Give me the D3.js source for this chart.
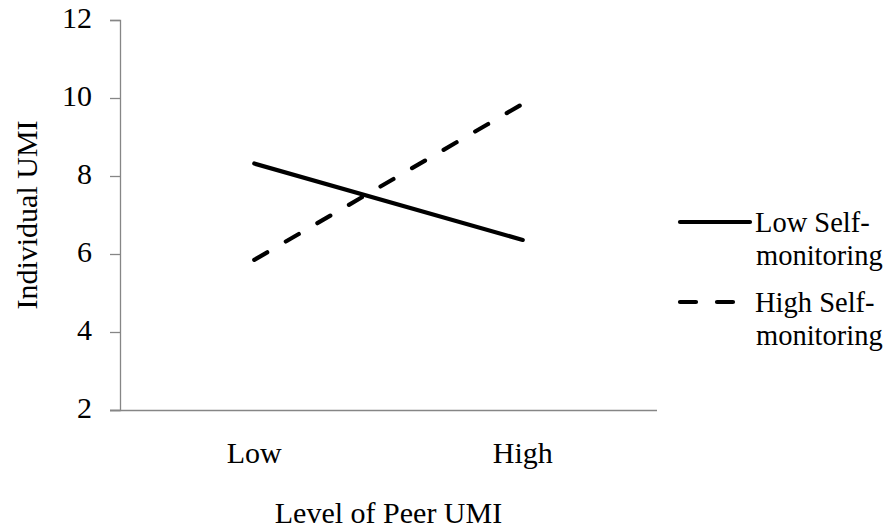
<!DOCTYPE html>
<html>
<head>
<meta charset="utf-8">
<script src="https://cdn.jsdelivr.net/npm/d3@7"></script>
<style>
  body { margin: 0; background: #fff; }
  svg { display: block; }
</style>
</head>
<body>
<svg id="chart" width="893" height="529"></svg>
<script>
const categories = ["Low", "High"];
const seriesNames = ["Low Self-monitoring", "High Self-monitoring"];
const lowSelfMonitoring = [8.32, 6.36];
const highSelfMonitoring = [5.85, 9.85];
const yTicks = [2, 4, 6, 8, 10, 12];
const xTitle = "Level of Peer UMI";
const yTitle = "Individual UMI";

(function () {
const FONT = "Liberation Serif";
const svg = d3.select("#chart");
const mLeft = 120, mRight = 657, mTop = 20, mBottom = 410;
const axisColor = "#868686";

const x = d3.scaleBand().domain(categories).range([mLeft, mRight]);
const y = d3.scaleLinear().domain([2, 12]).range([mBottom, mTop]);

// y axis
const yAxis = svg.append("g").attr("transform", `translate(${mLeft},0)`)
  .call(d3.axisLeft(y).tickValues(yTicks).tickSize(10).tickPadding(18).tickFormat(d3.format("d")));
yAxis.attr("font-family", FONT).attr("font-size", 30);
yAxis.select(".domain").attr("stroke", axisColor).attr("stroke-width", 1.3);
yAxis.selectAll(".tick line").attr("stroke", axisColor).attr("stroke-width", 1.3);
yAxis.selectAll(".tick text").attr("fill", "#000").attr("dy", "0.25em");

// x axis
const xAxis = svg.append("g").attr("transform", `translate(0,${mBottom})`)
  .call(d3.axisBottom(x).tickSize(0).tickPadding(32).tickSizeOuter(0));
xAxis.attr("font-family", FONT).attr("font-size", 30);
xAxis.select(".domain").attr("stroke", axisColor).attr("stroke-width", 1.3)
  .attr("d", `M${mLeft - 10},0.5H${mRight}`);
xAxis.selectAll(".tick text").attr("fill", "#000");

// axis titles
svg.append("text").attr("x", (mLeft + mRight) / 2).attr("y", 523)
  .attr("text-anchor", "middle").attr("font-size", 30).text(xTitle);
svg.append("text").attr("transform", `translate(37,${(mTop + mBottom) / 2}) rotate(-90)`)
  .attr("text-anchor", "middle").attr("font-size", 30).text(yTitle);

// lines
const series = [
  { name: seriesNames[0], values: lowSelfMonitoring, dash: null },
  { name: seriesNames[1], values: highSelfMonitoring, dash: "15,21.5" }
];
const line = d3.line().x((d, i) => x(categories[i]) + x.bandwidth() / 2).y(d => y(d));
series.forEach(s => {
  svg.append("path").datum(s.values).attr("d", line)
    .attr("fill", "none").attr("stroke", "#000").attr("stroke-width", 4.2)
    .attr("stroke-linecap", "round")
    .attr("stroke-dasharray", s.dash);
});

// legend
const legendY = [222, 302];
series.forEach((s, i) => {
  const ly = legendY[i];
  svg.append("line").attr("x1", 680).attr("x2", 750).attr("y1", ly).attr("y2", ly)
    .attr("stroke", "#000").attr("stroke-width", 4.2).attr("stroke-linecap", "round")
    .attr("stroke-dasharray", s.dash ? "16,21" : null);
  const parts = s.name.split(" ");
  const t = svg.append("text").attr("font-size", 28.5).attr("x", 755).attr("y", ly + 10);
  t.append("tspan").attr("x", 755).attr("dy", 0).text(parts[0] + " Self-");
  t.append("tspan").attr("x", 756).attr("dy", 33).text("monitoring");
});

svg.selectAll("text").style("font-family", "'Liberation Serif', serif").attr("fill", "#000");
})();
</script>
</body>
</html>
